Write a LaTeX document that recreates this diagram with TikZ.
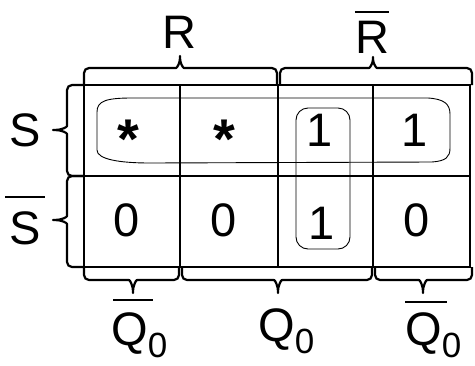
\documentclass[tikz,border=0pt]{standalone}
\usepackage{fontspec}
\setmainfont{Liberation Sans}
\begin{document}
\begin{tikzpicture}[x=1pt,y=-1pt,
  gridline/.style={line width=2.6pt},
  bracepath/.style={line width=2.2pt,rounded corners=5pt,line join=round},
  looppath/.style={line width=0.9pt},
  bigtxt/.style={inner sep=0pt,font=\fontsize{47}{47}\selectfont},
  startxt/.style={inner sep=0pt,font=\fontsize{56}{56}\selectfont\bfseries},
  barline/.style={line width=1.8pt}]
\useasboundingbox (0,0) rectangle (475,365);
% grid
\draw[gridline] (84,85) rectangle (470,267);
\draw[gridline] (180,85) -- (180,267);
\draw[gridline] (278,85) -- (278,267);
\draw[gridline] (373,85) -- (373,267);
\draw[gridline] (84,176) -- (470,176);
% cells
\node[startxt,anchor=base] (c11) at (128,158) {*};
\node[startxt,anchor=base] (c12) at (224,158) {*};
\node[bigtxt] (c13) at (320,130) {1};
\node[bigtxt] (c14) at (415,130) {1};
\node[bigtxt] (c21) at (127,220) {0};
\node[bigtxt] (c22) at (224,220) {0};
\node[bigtxt] (c23) at (322,223) {1};
\node[bigtxt] (c24) at (417,220) {0};
% loops
\draw[looppath] (132,98) .. controls (106,98) and (97,101) .. (97,112) -- (97,150)
  .. controls (97,159) and (118,163) .. (150,163) -- (432,162)
  .. controls (446,161) and (450,157) .. (450,148) -- (450,114)
  .. controls (450,104) and (444,99) .. (428,98) -- cycle;
\draw[looppath,rounded corners=12pt] (296,108) rectangle (350,249);
% top braces
\draw[bracepath] (84,85) -- (84,68) -- (171,68) .. controls (177,68) and (180,63) .. (180,53) .. controls (180,63) and (183,68) .. (189,68) -- (277,68) -- (277,85);
\draw[bracepath] (280,85) -- (280,68) -- (364,68) .. controls (370,68) and (373,63) .. (373,54) .. controls (373,63) and (376,68) .. (382,68) -- (472,68) -- (472,85);
% left braces
\draw[bracepath] (84,85) -- (67,85) -- (67,121) .. controls (67,127) and (62,130) .. (50,130) .. controls (62,130) and (67,133) .. (67,139) -- (67,176) -- (84,176);
\draw[bracepath] (84,176) -- (67,176) -- (67,211) .. controls (67,217) and (62,220) .. (50,220) .. controls (62,220) and (67,223) .. (67,229) -- (67,267) -- (84,267);
% bottom braces
\draw[bracepath] (84,267) -- (84,280) -- (124,280) .. controls (130,280) and (133,286) .. (133,296) .. controls (133,286) and (136,280) .. (142,280) -- (179,280) -- (179,267);
\draw[bracepath] (182,267) -- (182,280) -- (269,280) .. controls (275,280) and (278,286) .. (278,296) .. controls (278,286) and (281,280) .. (287,280) -- (372,280) -- (372,267);
\draw[bracepath] (375,267) -- (375,280) -- (414,280) .. controls (420,280) and (423,286) .. (423,296) .. controls (423,286) and (426,280) .. (432,280) -- (472,280) -- (472,267);
% labels
\node[bigtxt] (r) at (179,32) {R};
\node[bigtxt] (rb) at (372,37) {R};
\draw[barline] ([yshift=9pt]rb.north west) -- ([yshift=9pt]rb.north east);
\node[bigtxt] (s) at (25,130) {S};
\node[bigtxt] (sb) at (25,228) {S};
\draw[barline] ([xshift=-4pt,yshift=14pt]sb.north west) -- ([xshift=4pt,yshift=14pt]sb.north east);
\node[bigtxt,anchor=base west] (q1) at (111,345) {Q\raisebox{-12pt}{\fontsize{35}{35}\selectfont 0}};
\draw[barline] (113,300) -- (153,300);
\node[bigtxt,anchor=base west] (q2) at (258,341) {Q\raisebox{-12pt}{\fontsize{35}{35}\selectfont 0}};
\node[bigtxt,anchor=base west] (q3) at (405,345) {Q\raisebox{-12pt}{\fontsize{35}{35}\selectfont 0}};
\draw[barline] (405,302) -- (447,302);
\end{tikzpicture}
\end{document}
